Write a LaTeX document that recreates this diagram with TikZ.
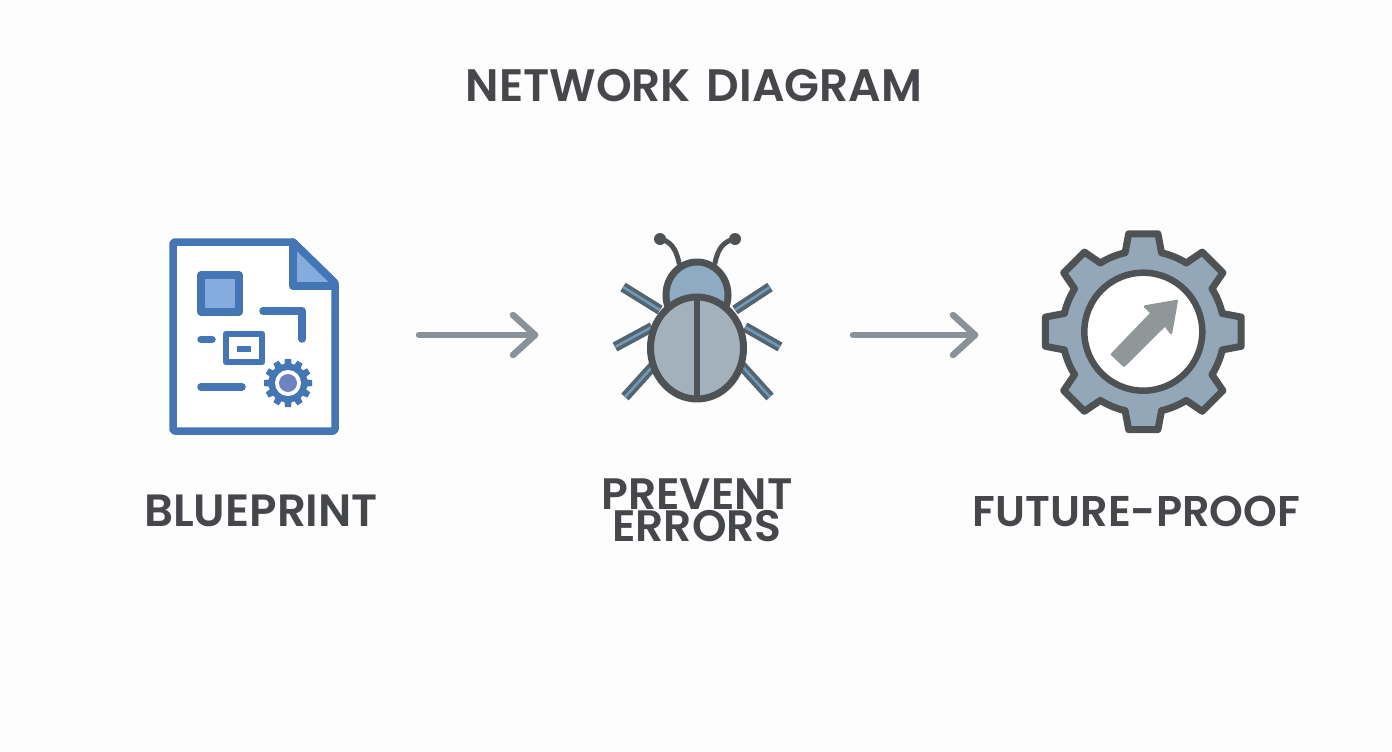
\documentclass[tikz,border=0pt]{standalone}
\usepackage{fontspec}
\setmainfont[BoldFont={Poppins SemiBold}]{Poppins}
\definecolor{bgc}{HTML}{FDFDFD}
\definecolor{docblue}{HTML}{4475B4}
\definecolor{lightblue}{HTML}{84ACDE}
\definecolor{discblue}{HTML}{6F83BE}
\definecolor{darkg}{HTML}{4F5254}
\definecolor{shell}{HTML}{A3B1BD}
\definecolor{headc}{HTML}{8FABC4}
\definecolor{legc}{HTML}{56646F}
\definecolor{legin}{HTML}{6E9ABC}
\definecolor{gearc}{HTML}{93A7B8}
\definecolor{arrc}{HTML}{919699}
\definecolor{connc}{HTML}{8A9199}
\definecolor{txtc}{HTML}{45474B}
\tikzset{
  docline/.style={draw=docblue,line width=7.5pt,line join=round,line cap=round},
  bugline/.style={draw=darkg,line width=7pt,line join=round},
  legout/.style={draw=legc,line width=10pt},
  leginn/.style={draw=legin,line width=2.5pt},
  conn/.style={draw=connc,line width=6.5pt,line cap=round,line join=round},
  label/.style={text=txtc,font=\bfseries\fontsize{44}{32}\selectfont,inner sep=0pt,anchor=center,align=center}
}
\newcommand{\bugleg}[4]{\draw[legout] (#1,#2)--(#3,#4); \draw[leginn] (#1,#2)--(#3,#4);}
\begin{document}
\begin{tikzpicture}[x=1pt,y=-1pt]
\useasboundingbox (0,0) rectangle (1392,752);
\fill[bgc] (0,0) rectangle (1392,752);
\node[label,font=\bfseries\fontsize{45.5}{45}\selectfont] (title) at (694,86) {NETWORK\hspace{5pt} DIAGRAM};
\node[label,font=\bfseries\fontsize{45.2}{45}\selectfont] (l1) at (261,511) {BLUEPRINT};
\node[label] (l2) at (697,510) {PREVENT\\ERRORS};
\node[label,font=\bfseries\fontsize{43}{45}\selectfont] (l3) at (1136.5,511) {FUTURE-PROOF};
% document icon
\draw[docline,fill=white,rounded corners=2pt] (173,242)--(293,242)--(335,283)--(335,431)--(173,431)--cycle;
\fill[lightblue] (293,242)--(335,286)--(293,286)--cycle;
\draw[docline] (293,242)--(293,286)--(335,286);
\draw[docline] (293,242)--(335,283);
\draw[docline,fill=lightblue] (201,275) rectangle (239,312);
\draw[docline] (263,311)--(302,311)--(302,339);
\draw[docline] (201,339.5)--(212,339.5);
\draw[docline,line width=6.5pt] (226,334) rectangle (262,362);
\draw[docline,line width=6pt,line cap=butt] (237,349)--(251,349);
\draw[docline] (201,387)--(242,387);
\foreach \a in {0,30,...,330}{
  \fill[docblue,rotate around={\a:(288,383)}] (285,359)--(291,359)--(292,368)--(284,368)--cycle;
}
\fill[docblue] (288,383) circle (19.5);
\fill[white] (288,383) circle (13);
\fill[discblue] (288,383) circle (9);
% connectors
\coordinate (a1s) at (419,335);
\coordinate (a1e) at (535,335);
\coordinate (a2s) at (853,335);
\coordinate (a2e) at (975,335);
\draw[conn] (a1s)--(a1e);
\draw[conn] (513,315)--(a1e)--(513,355);
\draw[conn] (a2s)--(a2e);
\draw[conn] (953,315)--(a2e)--(953,355);
% bug
\bugleg{623}{287}{660}{310}
\bugleg{615}{347}{652}{327}
\bugleg{625}{397}{654}{365}
\bugleg{770}{287}{735}{310}
\bugleg{780}{347}{745}{327}
\bugleg{770}{397}{741}{365}
\draw[draw=darkg,line width=5pt,line cap=round] (679,263) .. controls (676,248) and (670,241) .. (660,239);
\draw[draw=darkg,line width=5pt,line cap=round] (715,263) .. controls (718,248) and (724,241) .. (735,239);
\fill[darkg] (660,239) circle (6) (735,239) circle (6);
\draw[bugline,fill=headc] (697,295) ellipse (31 and 33);
\draw[bugline,fill=shell] (697,348) ellipse (46.5 and 51);
\draw[bugline,line width=6pt] (697,297)--(697,399);
% gear
\begin{scope}[shift={(1143.3,331.7)}]
\draw[draw=darkg,fill=gearc,line width=7pt,line join=round]
 (-13:81)
 \foreach \a in {0,45,...,315}{
   -- (\a-8.5:99) -- (\a+8.5:99) -- (\a+13:81) arc[start angle=\a+13,end angle=\a+32,radius=81]
 } -- cycle;
\draw[draw=darkg,fill=white,line width=6.5pt] (0,0) circle (59);
\end{scope}
\fill[arrc,draw=arrc,line width=2.5pt,line join=round] (1176.7,301)--(1145,306.5)--(1151.7,313)--(1112,354.3)--(1124,365.7)--(1165,325)--(1171,333)--cycle;
\end{tikzpicture}
\end{document}
